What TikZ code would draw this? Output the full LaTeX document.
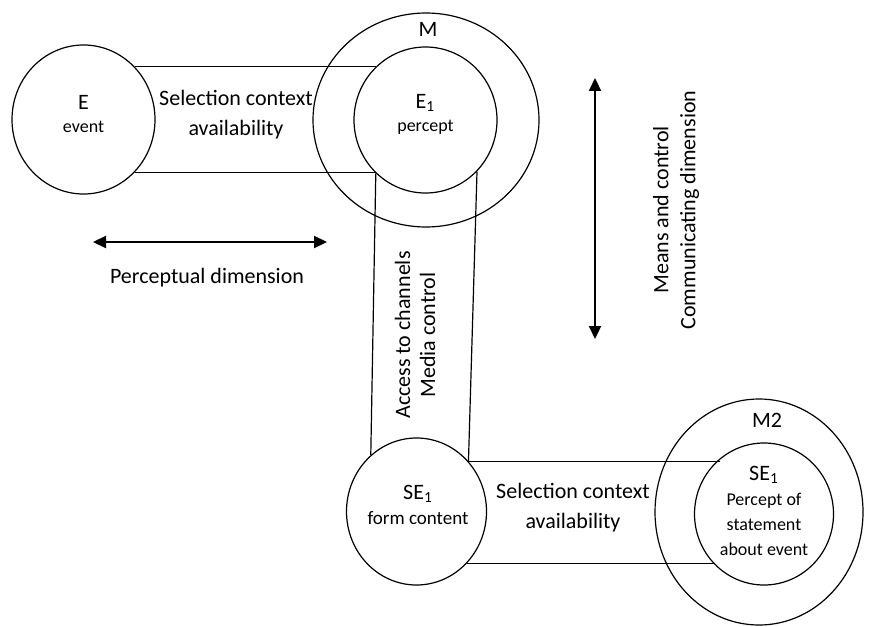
\documentclass[tikz,border=0pt]{standalone}
\usepackage{fontspec}
\setmainfont{Carlito}
\usetikzlibrary{shapes.geometric,arrows.meta}

\tikzset{
  ring/.style={draw,ellipse,inner sep=0pt,line width=0.6pt},
  band/.style={line width=0.6pt},
  dimarrow/.style={line width=1.1pt,{Triangle[width=6pt,length=6.5pt]}-{Triangle[width=6pt,length=6.5pt]}},
  big/.style={font=\fontsize{11}{15}\selectfont,align=center},
  small/.style={font=\fontsize{9}{12.5}\selectfont,align=center},
}

\begin{document}
\begin{tikzpicture}[x=0.5pt,y=-0.5pt]
  \useasboundingbox (0,0) rectangle (887,626);
  % circles
  \node[ring,minimum width=71.5pt,minimum height=74.5pt] (E) at (83.5,119.5) {};
  \node[ring,minimum width=113pt,minimum height=107pt] (M) at (426,120) {};
  \node[ring,minimum width=71.5pt,minimum height=73pt] (E1) at (425.5,120) {};
  \node[ring,minimum width=70pt,minimum height=73.5pt] (SE) at (416.5,511.5) {};
  \node[ring,minimum width=104pt,minimum height=113pt] (M2) at (759,512) {};
  \node[ring,minimum width=69.5pt,minimum height=71pt] (SE2) at (764,514) {};

  % bands between the circles
  \draw[band] (E.46) -- (E.46 -| E1.133);
  \draw[band] (E.-46) -- (E.-46 -| E1.-133.6);
  \draw[band] (E1.-133.6) -- (SE.129);
  \draw[band] (E1.-45) -- (SE.44);
  \draw[band] (SE.44) -- (SE.44 -| SE2.128);
  \draw[band] (SE.-46) -- (SE.-46 -| SE2.-135);

  % texts
  \node[font=\fontsize{11}{11.5}\selectfont,align=center] (Etxt) at (83.5,114) {E\\{\fontsize{9}{11}\selectfont event}};
  \node[font=\fontsize{11}{11.5}\selectfont,align=center] (E1txt) at (425.5,114) {E\textsubscript{1}\\{\fontsize{9}{11}\selectfont percept}};
  \node[font=\fontsize{11}{13}\selectfont] (Mtxt) at (428,29) {M};
  \node[font=\fontsize{11}{13}\selectfont] (M2txt) at (767,420) {M2};
  \node[big] (sel1) at (236,115) {Selection context\\availability};
  \node[big] (sel2) at (573,508) {Selection context\\availability};
  \node[font=\fontsize{9.5}{12.5}\selectfont,align=center] (SEtxt) at (418,505) {{\fontsize{11}{12}\selectfont SE\textsubscript{1}}\\form content};
  \node[small] (SE2txt) at (764,511) {{\fontsize{11}{11}\selectfont SE\textsubscript{1}}\\Percept of\\statement\\about event};
  \node[font=\fontsize{11}{12.5}\selectfont,align=center,rotate=90] (acc) at (415,335) {Access to channels\\Media control};

  % dimensions
  \coordinate (pl) at (93,242);
  \coordinate (pr) at (327,242);
  \draw[dimarrow] (pl) -- (pr);
  \node[font=\fontsize{11}{13}\selectfont] (pdim) at (207,278) {Perceptual dimension};
  \coordinate (ct) at (595,78);
  \coordinate (cb) at (595,339);
  \draw[dimarrow] (ct) -- (cb);
  \node[font=\fontsize{11}{13.5}\selectfont,align=center,rotate=90] (cdim) at (676,210) {Means and control\\Communicating dimension};
\end{tikzpicture}
\end{document}
